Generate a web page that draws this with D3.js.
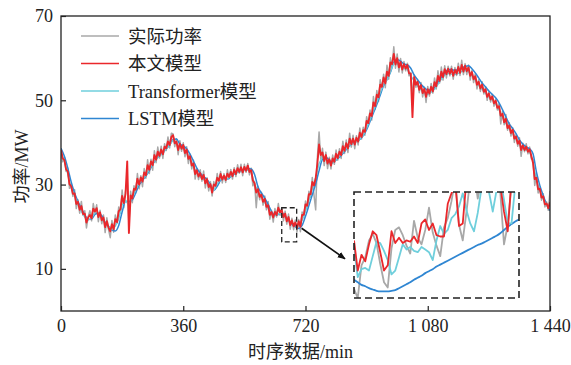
<!DOCTYPE html>
<html>
<head>
<meta charset="utf-8">
<script src="https://cdn.jsdelivr.net/npm/d3@7"></script>
<style>
  html, body { margin: 0; padding: 0; background: #fff; }
  svg text { font-family: "Liberation Serif", "Times New Roman", "Noto Sans CJK SC", serif; fill: #222; }
</style>
</head>
<body>
<svg id="chart" width="571" height="365"></svg>
<script>
// Power series, one value every 5 min from 0 to 1440 min
const actualStep = 5;
const actual = [
  38.5,35.4,36.5,33.1,33.9,29.1,30.0,27.2,28.8,24.3,
  26.4,23.2,26.0,22.7,23.8,19.7,22.4,23.8,21.4,25.5,
  23.2,25.2,21.2,23.9,20.7,22.8,18.6,22.1,19.3,17.4,
  21.5,18.7,22.8,20.8,24.7,23.2,28.7,24.5,28.4,31.0,
  20.5,28.4,25.7,29.7,28.0,32.6,29.0,32.1,29.5,33.8,
  31.5,35.9,32.6,36.0,33.4,38.0,35.2,38.9,36.3,39.1,
  36.2,39.7,38.1,41.3,38.7,42.2,42.0,39.0,40.9,37.1,
  40.4,37.9,39.9,36.6,39.0,35.0,37.2,33.7,35.8,31.3,
  33.8,31.2,33.5,30.8,33.2,29.2,31.6,28.5,30.7,27.3,
  30.7,29.2,32.6,30.3,33.1,30.4,32.6,30.5,33.5,31.4,
  33.6,31.3,34.0,31.9,34.7,32.7,34.8,32.1,34.8,32.9,
  35.0,32.3,33.9,29.7,30.6,24.5,29.6,26.4,28.2,25.1,
  27.3,24.0,26.0,21.8,23.9,21.1,24.3,22.3,25.5,22.7,
  24.5,21.4,23.7,20.6,23.0,19.4,22.0,19.3,21.6,18.8,
  21.7,18.8,23.5,22.2,26.1,24.1,28.4,27.0,31.7,27.5,
  24.0,36.5,42.5,36.0,38.6,34.5,37.7,33.8,36.5,33.7,
  37.0,34.8,38.2,35.8,38.5,36.2,40.3,37.4,40.6,37.6,
  42.2,38.9,41.7,38.5,41.6,39.4,43.4,40.8,43.6,41.7,
  46.1,44.0,47.7,45.3,50.9,47.9,52.3,49.7,54.9,52.6,
  56.2,53.0,58.3,55.0,60.1,57.9,62.7,57.6,61.0,56.7,
  59.9,56.5,59.2,57.0,58.8,55.8,56.6,50.5,55.9,53.1,
  54.9,51.8,54.2,50.8,53.1,49.5,53.3,51.0,54.0,51.7,
  55.3,52.7,57.0,54.1,57.9,54.8,58.2,55.3,58.1,55.8,
  58.1,55.0,57.8,55.9,58.8,55.9,59.5,56.1,58.7,56.1,
  58.4,54.8,57.1,54.2,56.3,52.7,54.9,52.1,54.4,51.5,
  53.2,50.0,52.0,49.6,51.4,48.6,50.3,47.7,49.2,44.4,
  47.4,44.2,46.6,42.9,44.7,41.5,43.5,40.0,41.8,39.1,
  41.1,36.7,39.8,37.8,39.7,37.3,38.9,36.1,36.0,29.8,
  32.4,28.0,29.5,26.3,27.8,24.7,25.9,23.9,28.5
];

const oursStep = 5;
const ours = [
  38.2,36.2,35.8,33.6,33.1,30.1,29.6,27.8,27.9,25.4,
  25.9,24.0,24.9,23.0,23.1,21.0,22.2,22.8,22.0,24.3,
  23.6,24.4,22.3,23.4,21.5,22.2,19.9,21.3,19.8,18.9,
  20.6,19.4,21.8,21.1,23.7,24.1,27.3,25.6,27.8,35.5,
  18.5,27.4,26.7,29.0,28.8,31.4,30.0,31.7,30.7,32.9,
  32.2,34.6,33.5,35.5,34.6,37.0,35.9,37.8,36.8,38.3,
  37.2,39.0,38.6,40.2,39.4,41.3,41.7,39.8,40.2,38.2,
  39.7,38.5,39.4,37.5,38.3,36.1,36.7,34.5,35.0,32.5,
  33.4,31.9,32.7,31.3,32.3,30.3,31.3,29.4,30.1,28.1,
  30.0,29.7,31.6,30.9,32.5,31.2,32.1,31.1,32.6,31.8,
  33.0,32.0,33.5,32.5,33.9,33.0,34.1,32.9,34.2,33.3,
  34.5,33.0,33.4,31.0,30.3,28.1,28.9,27.1,27.6,25.9,
  26.6,24.7,25.1,22.8,23.5,22.2,23.5,22.8,24.5,23.4,
  24.0,22.3,23.1,21.3,22.3,20.4,21.5,20.1,21.0,19.7,
  21.3,20.0,22.8,22.8,25.3,25.0,27.7,27.7,30.6,29.8,
  31.5,35.0,39.5,37.0,37.6,35.6,37.0,35.0,36.0,34.5,
  36.2,35.4,37.3,36.3,37.8,37.0,39.1,38.0,39.8,38.6,
  40.9,39.6,40.9,39.5,41.1,40.2,42.3,41.3,42.9,42.5,
  45.1,44.6,46.9,46.3,49.5,48.6,51.3,50.7,53.7,53.2,
  55.4,54.0,56.8,55.8,59.0,58.6,61.0,58.5,60.0,57.8,
  59.1,57.3,58.6,57.5,58.4,56.4,56.3,46.0,55.5,53.7,
  54.4,52.5,53.6,51.7,52.7,50.8,52.6,51.6,53.2,52.1,
  54.3,53.3,55.8,54.6,56.8,55.5,57.4,56.2,57.5,56.3,
  57.4,55.8,57.2,56.3,57.9,56.5,58.4,56.8,58.2,56.9,
  57.8,55.8,56.7,55.0,55.7,53.7,54.4,52.8,53.7,52.0,
  52.6,50.8,51.6,50.2,50.9,49.3,49.9,48.2,48.6,46.3,
  46.8,44.8,45.6,43.4,44.0,42.2,43.0,40.9,41.4,39.7,
  40.4,38.2,39.3,38.2,39.0,37.8,38.4,36.8,35.2,31.3,
  31.6,28.9,29.0,26.9,27.2,25.3,25.5,24.4,25.8
];

const transformerStep = 10;
const transformer = [
  37.6,35.6,32.5,29.2,27.4,25.4,23.6,22.3,21.6,22.0,
  23.5,23.3,22.1,20.8,20.2,19.3,20.1,21.8,25.2,26.3,
  25.0,26.8,28.8,30.3,31.2,32.2,33.6,35.0,36.0,36.8,
  37.4,38.5,39.4,40.5,39.8,38.6,38.5,37.6,35.9,34.2,
  32.9,31.8,31.2,30.8,29.5,28.6,30.2,31.3,31.4,31.4,
  32.0,32.6,32.9,33.1,33.3,33.4,33.0,30.2,28.2,27.0,
  25.8,24.4,23.0,22.6,23.0,23.3,22.4,21.4,20.8,20.2,
  20.2,21.5,23.6,26.2,28.9,31.6,35.0,36.5,36.0,35.0,
  35.1,35.8,36.7,37.6,38.5,39.3,39.8,40.2,40.8,41.7,
  43.4,45.4,47.5,49.6,51.8,53.8,54.8,56.8,58.8,58.7,
  58.0,57.5,57.4,55.8,54.6,53.4,52.5,51.7,51.4,51.9,
  52.6,53.8,55.0,56.0,56.4,56.2,56.1,56.4,56.8,57.1,
  56.8,55.9,54.8,53.6,52.6,51.7,50.8,50.1,49.2,47.8,
  46.0,44.5,43.2,42.2,40.8,39.6,38.5,38.2,37.8,35.5,
  31.2,28.6,26.6,25.0,24.8
];

const lstmStep = 10;
const lstm = [
  38.6,36.7,33.9,30.6,28.0,26.0,24.3,22.8,21.7,21.8,
  22.9,23.2,22.6,21.0,20.0,19.2,19.0,20.3,23.5,26.0,
  26.0,26.4,28.0,29.9,31.0,32.0,33.3,34.8,36.0,36.9,
  37.6,38.5,39.4,40.7,40.8,39.6,39.2,38.5,37.2,35.6,
  33.9,32.7,31.9,31.2,30.0,28.6,29.6,31.0,31.5,31.3,
  31.9,32.5,32.9,33.2,33.5,33.8,33.7,32.4,29.5,28.0,
  26.8,25.3,23.6,22.7,22.9,23.3,22.5,21.4,20.6,20.0,
  19.6,20.3,22.5,25.0,27.6,30.2,33.3,36.0,36.5,35.8,
  35.2,35.8,36.5,37.4,38.3,39.2,39.9,40.3,40.7,41.6,
  43.0,45.0,47.0,49.0,51.2,53.5,55.0,56.6,59.0,59.7,
  59.3,58.6,58.4,57.6,56.0,54.9,53.8,53.0,52.4,52.6,
  53.0,54.2,55.4,56.5,57.3,57.3,57.1,57.3,57.6,58.0,
  58.2,57.5,56.5,55.3,54.1,53.2,52.2,51.4,50.6,49.4,
  47.8,46.1,44.4,43.3,42.1,40.6,39.6,38.9,38.5,37.3,
  33.0,29.8,27.4,25.3,23.8
];

// Close-up window, one value per minute from 650 to 694 min
const zoomStart = 650;
const zoomEnd = 694;
const zoomLow = 16.4;
const zoomHigh = 24.5;
const zoomActual = [
  17.1,16.4,18.9,19.5,20.8,21.3,20.6,19.0,17.6,17.2,
  20.2,21.6,21.8,21.2,20.4,19.8,22.3,21.0,20.5,21.6,
  23.3,21.4,20.4,19.6,21.8,22.5,23.8,25.5,22.0,20.8,
  23.0,25.5,26.0,24.0,25.5,26.0,25.8,25.0,26.0,24.5,
  20.5,22.0,25.0,26.0,26.0
];
const zoomOurs = [
  20.8,18.5,19.7,19.2,20.5,21.5,21.2,19.9,18.5,18.9,
  21.5,20.6,21.0,20.6,20.8,20.7,21.1,20.6,22.1,22.4,
  21.6,22.1,21.2,21.1,21.1,23.6,24.4,25.2,21.9,22.1,
  25.5,26.5,26.0,25.8,26.5,25.6,26.2,25.4,26.0,25.0,
  23.0,21.5,25.5,26.0,26.5
];
const zoomTransformer = [
  20.2,18.0,18.6,18.7,18.5,19.6,20.7,20.6,20.0,19.3,
  18.2,18.5,19.5,20.5,20.1,20.3,20.0,19.9,20.3,20.1,
  19.9,19.3,20.8,21.9,21.3,21.6,22.5,22.8,23.4,24.4,
  23.1,22.1,21.5,22.9,24.8,25.8,24.5,23.0,24.6,25.6,
  23.9,22.1,22.1,25.0,25.8
];
const zoomLstm = [
  17.8,17.6,17.4,17.3,17.15,17.05,16.95,16.9,16.9,16.9,
  16.95,17.0,17.15,17.3,17.45,17.6,17.8,17.95,18.1,18.3,
  18.45,18.6,18.8,18.95,19.1,19.25,19.4,19.55,19.7,19.85,
  20.0,20.15,20.3,20.45,20.55,20.7,20.85,21.0,21.15,21.35,
  21.6,21.85,22.05,22.25,22.4
];

const xTicks = [0, 360, 720, 1080, 1440];
const xTickLabels = ["0", "360", "720", "1 080", "1 440"];
const yTicks = [10, 30, 50, 70];
const seriesNames = ["实际功率", "本文模型", "Transformer模型", "LSTM模型"];
const seriesColors = ["#a8a8a8", "#ea272b", "#6fcfdc", "#2f86d2"];

const svg = d3.select("#chart");
const plot = { left: 61, right: 550, top: 16, bottom: 311 };

const x = d3.scaleLinear().domain([0, 1440]).range([plot.left, plot.right]);
const y = d3.scaleLinear().domain([0, 70]).range([plot.bottom, plot.top]);

const defs = svg.append("defs");
defs.append("clipPath").attr("id", "plotClip")
  .append("rect")
  .attr("x", plot.left).attr("y", plot.top)
  .attr("width", plot.right - plot.left).attr("height", plot.bottom - plot.top);

const toPoints = (vals, step) => vals.map((v, i) => [i * step, v]);

const line = d3.line().x(d => x(d[0])).y(d => y(d[1]));
const smoothLine = d3.line().x(d => x(d[0])).y(d => y(d[1])).curve(d3.curveMonotoneX);

const curves = svg.append("g").attr("clip-path", "url(#plotClip)");
const mainSeries = [
  { pts: toPoints(actual, actualStep), color: seriesColors[0], w: 1.5, gen: line },
  { pts: toPoints(lstm, lstmStep), color: seriesColors[3], w: 1.5, gen: smoothLine },
  { pts: toPoints(transformer, transformerStep), color: seriesColors[2], w: 1.4, gen: line },
  { pts: toPoints(ours, oursStep), color: seriesColors[1], w: 1.9, gen: line }
];
mainSeries.forEach(s => {
  curves.append("path")
    .attr("d", s.gen(s.pts))
    .attr("fill", "none")
    .attr("stroke", s.color)
    .attr("stroke-width", s.w)
    .attr("stroke-linejoin", "round");
});

// Frame
svg.append("rect")
  .attr("x", plot.left).attr("y", plot.top)
  .attr("width", plot.right - plot.left).attr("height", plot.bottom - plot.top)
  .attr("fill", "none").attr("stroke", "#222").attr("stroke-width", 1.3);

// Axes with inward ticks
const xAxis = svg.append("g")
  .attr("transform", `translate(0,${plot.bottom})`)
  .call(d3.axisBottom(x).tickValues(xTicks).tickSize(-5).tickPadding(8)
    .tickFormat((d, i) => xTickLabels[i]));
const yAxis = svg.append("g")
  .attr("transform", `translate(${plot.left},0)`)
  .call(d3.axisLeft(y).tickValues(yTicks).tickSize(-5).tickPadding(8));
[xAxis, yAxis].forEach(a => {
  a.select(".domain").remove();
  a.selectAll(".tick line").attr("stroke", "#222").attr("stroke-width", 1.2);
  a.selectAll("text").attr("font-size", 18).style("font-family", null);
});

// Axis titles
svg.append("text")
  .attr("x", (plot.left + plot.right) / 2 - 5).attr("y", 358)
  .attr("text-anchor", "middle").attr("font-size", 18)
  .text("时序数据/min");
svg.append("text")
  .attr("transform", `translate(28,${(plot.top + plot.bottom) / 2 + 3}) rotate(-90)`)
  .attr("text-anchor", "middle").attr("font-size", 18)
  .text("功率/MW");

// Legend
const legend = svg.append("g");
seriesNames.forEach((name, i) => {
  const ly = 36 + i * 27.5;
  legend.append("line")
    .attr("x1", 81).attr("x2", 119).attr("y1", ly).attr("y2", ly)
    .attr("stroke", seriesColors[i]).attr("stroke-width", 1.5);
  legend.append("text")
    .attr("x", 128).attr("y", ly + 6.5).attr("font-size", 18.5)
    .text(name);
});

// Marker of the close-up window on the main curve
const markX0 = x(zoomStart), markX1 = x(zoomEnd);
const markY0 = y(zoomHigh), markY1 = y(zoomLow);
svg.append("rect")
  .attr("x", markX0).attr("y", markY0)
  .attr("width", markX1 - markX0).attr("height", markY1 - markY0)
  .attr("fill", "none").attr("stroke", "#222").attr("stroke-width", 1.3)
  .attr("stroke-dasharray", "5,3");

// Close-up panel
const box = { left: 354, right: 519, top: 192, bottom: 298 };
const zx = d3.scaleLinear().domain([zoomStart, zoomEnd]).range([box.left, box.right]);
const zy = d3.scaleLinear().domain([zoomLow, zoomHigh]).range([box.bottom, box.top]);

defs.append("clipPath").attr("id", "zoomClip")
  .append("rect")
  .attr("x", box.left).attr("y", box.top)
  .attr("width", box.right - box.left).attr("height", box.bottom - box.top);

svg.append("rect")
  .attr("x", box.left).attr("y", box.top)
  .attr("width", box.right - box.left).attr("height", box.bottom - box.top)
  .attr("fill", "#fff");

const zLine = d3.line().x((d, i) => zx(zoomStart + i)).y(d => zy(d));
const zSmooth = d3.line().x((d, i) => zx(zoomStart + i)).y(d => zy(d)).curve(d3.curveMonotoneX);
const zg = svg.append("g").attr("clip-path", "url(#zoomClip)");
[
  { vals: zoomActual, color: seriesColors[0], gen: zLine },
  { vals: zoomLstm, color: seriesColors[3], gen: zSmooth },
  { vals: zoomTransformer, color: seriesColors[2], gen: zLine },
  { vals: zoomOurs, color: seriesColors[1], gen: zLine }
].forEach(s => {
  zg.append("path")
    .attr("d", s.gen(s.vals))
    .attr("fill", "none")
    .attr("stroke", s.color)
    .attr("stroke-width", 1.8)
    .attr("stroke-linejoin", "round");
});

svg.append("rect")
  .attr("x", box.left).attr("y", box.top)
  .attr("width", box.right - box.left).attr("height", box.bottom - box.top)
  .attr("fill", "none").attr("stroke", "#222").attr("stroke-width", 1.6)
  .attr("stroke-dasharray", "7,4");

// Arrow from the window marker to the panel
defs.append("marker")
  .attr("id", "arrowHead")
  .attr("viewBox", "0 0 10 10").attr("refX", 9).attr("refY", 5)
  .attr("markerWidth", 5).attr("markerHeight", 5)
  .attr("markerUnits", "strokeWidth")
  .attr("orient", "auto")
  .append("path").attr("d", "M0,1 L10,5 L0,9 Z").attr("fill", "#111");

svg.append("line")
  .attr("x1", markX1 + 5).attr("y1", markY0 + (markY1 - markY0) * 0.6)
  .attr("x2", box.left - 9).attr("y2", box.top + (box.bottom - box.top) * 0.63)
  .attr("stroke", "#111").attr("stroke-width", 1.6)
  .attr("marker-end", "url(#arrowHead)");
</script>
</body>
</html>
